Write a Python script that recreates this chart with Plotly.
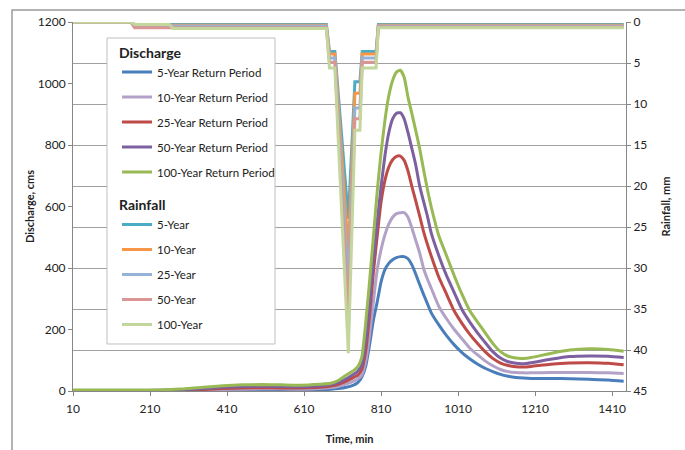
import plotly.graph_objects as go

# ---------------- data ----------------
time_q = [10, 100, 200, 250, 300, 350, 400, 450, 500, 550,
          600, 650, 680, 700, 720, 740, 750, 760, 770, 780,
          790, 800, 810, 820, 830, 840, 850, 860, 870, 880,
          890, 900, 910, 920, 930, 940, 960, 980, 1000, 1020,
          1040, 1060, 1080, 1100, 1120, 1140, 1160, 1180, 1200, 1250,
          1300, 1350, 1400, 1440]

q_5yr = [0, 0, 0, 0, 1, 1, 2, 3, 3, 3,
         3, 4, 6, 8, 12, 20, 28, 45, 80, 150,
         230, 290, 355, 395, 415, 427, 434, 437, 437, 430,
         410, 380, 347, 315, 285, 255, 215, 180, 150, 125,
         105, 88, 74, 63, 54, 48, 44, 42, 41, 41,
         40, 38, 36, 32]
q_10yr = [1, 1, 1, 1, 2, 3, 5, 6, 7, 7,
          6, 8, 11, 15, 23, 33, 40, 52, 95, 180,
          290, 395, 460, 508, 543, 565, 577, 580, 580, 565,
          530, 490, 450, 400, 365, 335, 275, 235, 200, 170,
          140, 118, 98, 82, 70, 63, 60, 59, 59, 60,
          60, 60, 59, 57]
q_25yr = [1, 1, 1, 2, 3, 5, 8, 10, 11, 10,
          10, 12, 16, 22, 32, 45, 52, 70, 130, 245,
          385, 505, 615, 685, 728, 752, 763, 764, 750, 715,
          665, 618, 570, 520, 478, 440, 370, 315, 260, 220,
          185, 155, 128, 106, 91, 83, 79, 78, 80, 87,
          91, 92, 90, 85]
q_50yr = [2, 2, 2, 3, 5, 8, 12, 15, 16, 15,
          14, 17, 21, 28, 40, 55, 65, 85, 160, 280,
          420, 550, 665, 765, 840, 885, 903, 905, 885, 840,
          788, 735, 668, 618, 570, 515, 440, 375, 320, 265,
          225, 190, 158, 128, 107, 95, 90, 89, 92, 103,
          112, 114, 113, 109]
q_100yr = [3, 3, 3, 4, 7, 12, 17, 20, 21, 20,
           19, 22, 25, 35, 52, 68, 80, 110, 220, 355,
           500, 650, 775, 880, 960, 1010, 1037, 1043, 1020, 955,
           902, 847, 790, 722, 658, 600, 505, 440, 375, 315,
           262, 225, 190, 155, 128, 113, 107, 106, 109, 122,
           133, 137, 135, 129]

time_r = [10, 160, 170, 260, 270, 668, 676, 690, 725, 742, 755, 761, 797, 803, 1440]
r_5yr = [0, 0, 0.3, 0.3, 0.3, 0.3, 3.6, 3.6, 24.0, 7.3, 7.3, 3.6, 3.6, 0.3, 0.3]
r_10yr = [0, 0, 0.4, 0.4, 0.4, 0.4, 3.9, 3.9, 28.0, 8.7, 8.7, 3.9, 3.9, 0.4, 0.4]
r_25yr = [0, 0, 0.5, 0.5, 0.5, 0.5, 4.4, 4.4, 32.0, 10.5, 10.5, 4.4, 4.4, 0.5, 0.5]
r_50yr = [0, 0, 0.7, 0.7, 0.7, 0.7, 4.9, 4.9, 36.0, 11.8, 11.8, 4.9, 4.9, 0.6, 0.6]
r_100yr = [0, 0, 0.3, 0.3, 0.8, 0.8, 5.6, 5.6, 40.4, 13.2, 13.2, 5.6, 5.6, 0.7, 0.7]

q_names = ["5-Year Return Period", "10-Year Return Period", "25-Year Return Period",
           "50-Year Return Period", "100-Year Return Period"]
r_names = ["5-Year", "10-Year", "25-Year", "50-Year", "100-Year"]
x_ticks = [10, 210, 410, 610, 810, 1010, 1210, 1410]

q_colors = ["#4A7EBB", "#B3A2C7", "#BE4B48", "#7D60A0", "#98B954"]
r_colors = ["#4BACC6", "#F79646", "#95B3D7", "#D99694", "#C3D69B"]

FONT = "Lato, 'Liberation Sans', sans-serif"

fig = go.Figure()
for i, (name, ys, col) in enumerate(zip(q_names, [q_5yr, q_10yr, q_25yr, q_50yr, q_100yr], q_colors)):
    fig.add_trace(go.Scatter(x=time_q, y=ys, name=name, mode="lines",
                             line=dict(color=col, width=3, shape="spline", smoothing=0.5),
                             legend="legend", legendgroup="q%d" % i))
for i, (name, ys, col) in enumerate(zip(r_names, [r_5yr, r_10yr, r_25yr, r_50yr, r_100yr], r_colors)):
    fig.add_trace(go.Scatter(x=time_r, y=ys, name=name, mode="lines",
                             line=dict(color=col, width=3),
                             yaxis="y2", legend="legend2", legendgroup="r%d" % i))

axis_line = "#868686"
fig.update_layout(
    width=685, height=450,
    margin=dict(l=73, r=59, t=22, b=59),
    paper_bgcolor="white", plot_bgcolor="white",
    font=dict(family=FONT, size=12, color="#222222"),
    xaxis=dict(range=[10, 1446], tickvals=x_ticks, ticks="outside", ticklen=4,
               tickcolor=axis_line, showline=True, linecolor=axis_line, linewidth=1,
               showgrid=False, zeroline=False, ticklabelstandoff=3, automargin=False,
               title=dict(text="<b>Time, min</b>", font=dict(size=11), standoff=19)),
    yaxis=dict(range=[0, 1200], dtick=200, ticks="outside", ticklen=4,
               tickcolor=axis_line, showline=True, linecolor=axis_line, linewidth=1,
               showgrid=False, zeroline=False, automargin=False,
               title=dict(text="<b>Discharge, cms</b>", font=dict(size=11), standoff=0)),
    yaxis2=dict(range=[45, 0], dtick=5, overlaying="y", side="right", ticks="outside",
                ticklen=4, tickcolor=axis_line, showline=True, linecolor=axis_line,
                linewidth=1, showgrid=True, gridcolor="#A0A0A0", gridwidth=1,
                zeroline=False, automargin=False,
                title=dict(text="<b>Rainfall, mm</b>", font=dict(size=11), standoff=15)),
    legend=dict(x=0.0796, y=0.953, xanchor="left", yanchor="top",
                bgcolor="rgba(0,0,0,0)", borderwidth=0, itemwidth=30,
                tracegroupgap=6,
                font=dict(size=11.5, color="#222222"),
                title=dict(text="<b>Discharge</b>", font=dict(size=14))),
    legend2=dict(x=0.0796, y=0.54, xanchor="left", yanchor="top",
                 bgcolor="rgba(0,0,0,0)", borderwidth=0, itemwidth=30,
                 tracegroupgap=6,
                 font=dict(size=11.5, color="#222222"),
                 title=dict(text="<b>Rainfall</b>", font=dict(size=14))),
    shapes=[
        dict(type="rect", xref="paper", yref="paper", x0=0.0615, x1=0.3653,
             y0=0.1274, y1=0.9566, fillcolor="white",
             line=dict(color="#BFBFBF", width=1), layer="above"),
        dict(type="rect", xref="paper", yref="paper", x0=-0.1103, x1=1.12,
             y0=-0.19, y1=1.0325, fillcolor="rgba(0,0,0,0)",
             line=dict(color="#9A9A9A", width=1.5), layer="above"),
    ],
)

fig.write_html("out.html")
